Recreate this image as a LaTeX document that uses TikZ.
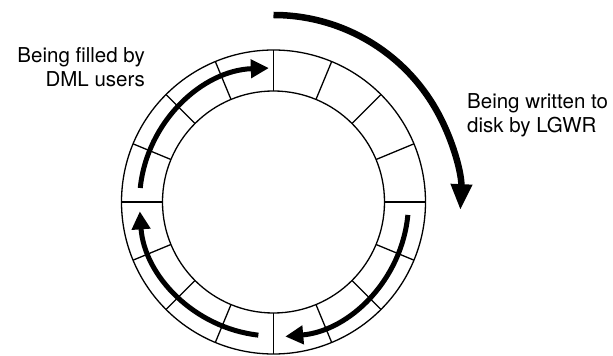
\documentclass[tikz,border=0pt]{standalone}
\usepackage{fontspec}
\setmainfont{TeX Gyre Heros}
\usepackage{tikz}
\usetikzlibrary{arrows.meta}

\begin{document}
\begin{tikzpicture}[x=1pt, y=1pt,
    ring/.style={line width=1.3pt},
    flow/.style={line width=5pt, -{Triangle[length=18pt, width=18pt]}},
    bigflow/.style={line width=6.5pt, -{Triangle[length=26pt, width=20pt]}},
    lbl/.style={inner sep=0pt, font=\fontsize{20.5}{24.5}\selectfont}]
    \useasboundingbox (-273.5,-154) rectangle (339.5,202);

    % redo log buffer
    \draw[ring] (0,0) circle (152pt);
    \draw[ring] (0,0) circle (111pt);
    \foreach \a in {0,22.5,...,337.5}
        \draw[ring] (\a:111pt) -- (\a:152pt);

    \draw[flow] (174:134pt) arc (174:92:134pt);
    \draw[flow] (263.5:134pt) arc (263.5:184:134pt);
    \draw[flow] (-5.5:135pt) arc (-5.5:-85:135pt);

    % freccia esterna
    \draw[bigflow] (90:187pt) arc (90:-2.5:187pt);

    \node[lbl, anchor=base east, align=right] (filled) at (-128.5,115) {Being filled by\\DML users};
    \node[lbl, anchor=base west, align=left] (written) at (193.5,69) {Being written to\\disk by LGWR};
\end{tikzpicture}
\end{document}
